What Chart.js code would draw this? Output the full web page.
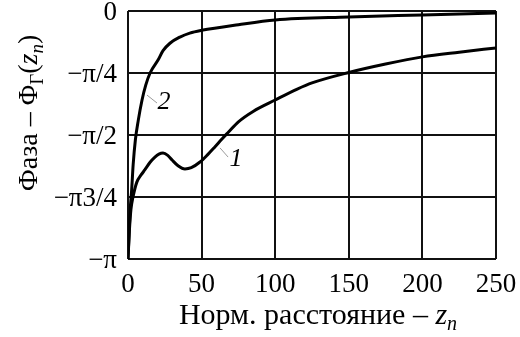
<!DOCTYPE html>
<html>
<head>
<meta charset="utf-8">
<script src="https://cdn.jsdelivr.net/npm/chart.js@4/dist/chart.umd.min.js"></script>
<style>
  body { margin: 0; background: #fff; }
  canvas { display: block; }
</style>
</head>
<body>
<canvas id="phaseChart" width="520" height="337"></canvas>
<script>
// normalised distance z_n and phase (in units of pi)
const curve1X = [0, 1, 2, 3.4, 6, 9, 11.5, 15, 18.3, 21, 23.8, 27, 30, 34, 38.7, 43, 48.9, 54, 59, 64, 68, 75, 85, 100, 115, 125, 150, 175, 200, 225, 250];
const curve1Y = [-1, -0.88, -0.8, -0.75, -0.69, -0.66, -0.64, -0.61, -0.589, -0.577, -0.573, -0.582, -0.601, -0.624, -0.637, -0.632, -0.609, -0.58, -0.548, -0.515, -0.49, -0.447, -0.405, -0.359, -0.315, -0.29, -0.248, -0.214, -0.185, -0.166, -0.149];

const curve2X = [0, 0.7, 1.5, 2.5, 3.5, 5, 7, 9.5, 12, 15, 20.4, 23.8, 28.5, 35.3, 42, 50, 75, 100, 150, 200, 250];
const curve2Y = [-1, -0.9, -0.8, -0.72, -0.62, -0.52, -0.44, -0.36, -0.3, -0.25, -0.198, -0.16, -0.13, -0.105, -0.089, -0.078, -0.055, -0.036, -0.024, -0.016, -0.008];

const xTickValues = [0, 50, 100, 150, 200, 250];
const yTickValues = [-1, -0.75, -0.5, -0.25, 0];
const yTickLabels = ['−π', '−π3/4', '−π/2', '−π/4', '0'];
const curveNames = ['1', '2'];

const FONT = '"Liberation Serif", "Times New Roman", serif';
const TICK_SIZE = 27;

// axis titles, with italic / subscript parts
const xTitleRuns = [{ t: 'Норм. расстояние – ' }, { t: 'z', i: true }, { t: 'n', i: true, sub: true }];
const yTitleRuns = [{ t: 'Фаза – Φ' }, { t: 'Γ', sub: true }, { t: '(' }, { t: 'z', i: true }, { t: 'n', i: true, sub: true }, { t: ')' }];

// where the curve numbers sit, with their little leader lines
const curveTags = [
    { name: curveNames[0], x: 73.4, y: -0.597, from: [62.5, -0.552], to: [68, -0.589] },
    { name: curveNames[1], x: 24.5, y: -0.367, from: [12.9, -0.339], to: [19.7, -0.371] }
];

const toPoints = (xs, ys) => xs.map((x, i) => ({ x: x, y: ys[i] }));

const runFont = (run, size) => {
    const s = run.sub ? Math.round(size * 0.68) : size;
    return (run.i ? 'italic ' : '') + s + 'px ' + FONT;
};

// draws a row of text runs centred on the current origin
function drawRuns(ctx, runs, size) {
    let width = 0;
    runs.forEach(r => {
        ctx.font = runFont(r, size);
        width += ctx.measureText(r.t).width;
    });
    let x = -width / 2;
    runs.forEach(r => {
        ctx.font = runFont(r, size);
        ctx.fillText(r.t, x, r.sub ? size * 0.28 : 0);
        x += ctx.measureText(r.t).width;
    });
}

const decorations = {
    id: 'decorations',
    afterDraw(chart) {
        const { ctx, chartArea, scales } = chart;
        ctx.save();
        ctx.fillStyle = '#000';
        ctx.textBaseline = 'middle';
        ctx.textAlign = 'left';

        // x title
        ctx.save();
        ctx.translate((chartArea.left + chartArea.right) / 2 + 6, chartArea.bottom + 57);
        drawRuns(ctx, xTitleRuns, 30);
        ctx.restore();

        // y title, rotated
        ctx.save();
        ctx.translate(chartArea.left - 98, (chartArea.top + chartArea.bottom) / 2 - 22);
        ctx.rotate(-Math.PI / 2);
        drawRuns(ctx, yTitleRuns, 28);
        ctx.restore();

        // curve numbers
        curveTags.forEach(tag => {
            ctx.strokeStyle = '#9a9a9a';
            ctx.lineWidth = 1;
            ctx.beginPath();
            ctx.moveTo(scales.x.getPixelForValue(tag.from[0]), scales.y.getPixelForValue(tag.from[1]));
            ctx.lineTo(scales.x.getPixelForValue(tag.to[0]), scales.y.getPixelForValue(tag.to[1]));
            ctx.stroke();
            ctx.font = 'italic 26px ' + FONT;
            ctx.textAlign = 'center';
            ctx.fillText(tag.name, scales.x.getPixelForValue(tag.x), scales.y.getPixelForValue(tag.y));
        });
        ctx.restore();
    }
};

const lineStyle = {
    borderColor: '#000',
    borderWidth: 3,
    pointRadius: 0,
    fill: false,
    cubicInterpolationMode: 'monotone'
};

new Chart(document.getElementById('phaseChart'), {
    type: 'line',
    data: {
        datasets: [
            { label: curveNames[0], data: toPoints(curve1X, curve1Y), ...lineStyle },
            { label: curveNames[1], data: toPoints(curve2X, curve2Y), ...lineStyle }
        ]
    },
    options: {
        responsive: false,
        animation: false,
        devicePixelRatio: 1,
        layout: { padding: { top: 11, right: 24, left: 0, bottom: 0 } },
        plugins: {
            legend: { display: false },
            tooltip: { enabled: false }
        },
        scales: {
            x: {
                type: 'linear',
                min: 0,
                max: 250,
                afterBuildTicks: scale => { scale.ticks = xTickValues.map(v => ({ value: v })); },
                afterFit: scale => {
                    scale.height = 78;
                    scale.paddingLeft = 0;
                    scale.paddingRight = 0;
                },
                grid: { color: '#111', lineWidth: 2, drawTicks: false },
                border: { display: false },
                ticks: {
                    color: '#000',
                    padding: 10,
                    maxRotation: 0,
                    font: { family: FONT, size: TICK_SIZE }
                }
            },
            y: {
                type: 'linear',
                min: -1,
                max: 0,
                afterBuildTicks: scale => { scale.ticks = yTickValues.map(v => ({ value: v })); },
                afterFit: scale => {
                    scale.width = 128;
                    scale.paddingTop = 0;
                    scale.paddingBottom = 0;
                },
                grid: { color: '#111', lineWidth: 2, drawTicks: false },
                border: { display: false },
                ticks: {
                    color: '#000',
                    padding: 11,
                    labelOffset: 2,
                    font: { family: FONT, size: TICK_SIZE },
                    callback: value => yTickLabels[yTickValues.indexOf(value)]
                }
            }
        }
    },
    plugins: [decorations]
});
</script>
</body>
</html>
